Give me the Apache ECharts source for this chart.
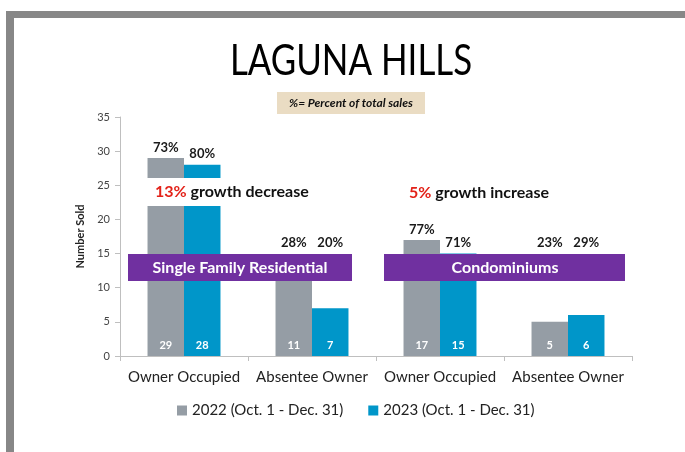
<!DOCTYPE html>
<html>
<head>
<meta charset="utf-8">
<script src="https://cdn.jsdelivr.net/npm/echarts@6/dist/echarts.min.js"></script>
<style>
html, body { margin: 0; padding: 0; background: #fff; }
#chart { width: 685px; height: 452px; }
</style>
</head>
<body>
<div id="chart"></div>
<script>
'use strict'
var categories = ['Owner Occupied', 'Absentee Owner', 'Owner Occupied', 'Absentee Owner'];
var seriesNames = ['2022 (Oct. 1 - Dec. 31)', '2023 (Oct. 1 - Dec. 31)'];
var sold2022 = [29, 11, 17, 5];
var sold2023 = [28, 7, 15, 6];
var pct2022 = ['73%', '28%', '77%', '23%'];
var pct2023 = ['80%', '20%', '71%', '29%'];
var yTicks = [0, 5, 10, 15, 20, 25, 30, 35];

var FONT = 'Lato';
var BAND_TOP = 15; // purple banner top, in axis units

//percent labels sit on the bar, or on the banner when the bar is hidden
function pctMarks(vals, pcts) {
    var arr = [];
    for (var i = 0; i < vals.length; i++) {
        arr.push({
            coord: [i, Math.max(vals[i], BAND_TOP)],
            value: pcts[i]
        });
    }
    return arr;
}

function barSeries(name, data, pcts, color) {
    return {
        name: name,
        type: 'bar',
        data: data,
        barGap: '0%',
        barCategoryGap: '43%',
        itemStyle: { color: color },
        label: {
            show: true,
            position: 'insideBottom',
            distance: 5,
            color: '#fff',
            fontFamily: FONT,
            fontWeight: 'bold',
            fontSize: 11
        },
        markPoint: {
            symbol: 'rect',
            symbolSize: 0,
            label: {
                show: true,
                position: 'top',
                distance: 4,
                formatter: '{c}',
                color: '#1a1a1a',
                fontFamily: FONT,
                fontWeight: 'bold',
                fontSize: 13
            },
            data: pctMarks(data, pcts)
        }
    };
}

var chart = echarts.init(document.getElementById('chart'));
var option = {
    backgroundColor: '#fff',
    animation: false,
    grid: { left: 120, right: 53, top: 117, bottom: 96 },
    legend: {
        data: seriesNames,
        left: 172,
        top: 398,
        itemWidth: 10,
        itemHeight: 10,
        itemGap: 25,
        icon: 'rect',
        textStyle: { fontFamily: FONT, fontSize: 15, color: '#222' }
    },
    xAxis: {
        type: 'category',
        data: categories,
        axisLine: { lineStyle: { color: '#bfbfbf' } },
        axisTick: { show: true, length: 5, lineStyle: { color: '#bfbfbf' } },
        axisLabel: { fontFamily: FONT, fontSize: 15, color: '#222', margin: 14, interval: 0 }
    },
    yAxis: {
        type: 'value',
        min: yTicks[0],
        max: yTicks[yTicks.length - 1],
        interval: 5,
        name: 'Number Sold',
        nameLocation: 'middle',
        nameRotate: 90,
        nameGap: 27,
        nameTextStyle: { fontFamily: FONT, fontSize: 11, fontWeight: 'bold', color: '#222' },
        axisLine: { show: true, lineStyle: { color: '#bfbfbf' } },
        axisTick: { show: true, length: 5, lineStyle: { color: '#bfbfbf' } },
        axisLabel: { fontFamily: FONT, fontSize: 11, color: '#444', margin: 10 },
        splitLine: { show: false }
    },
    series: [
        barSeries(seriesNames[0], sold2022, pct2022, '#959da5'),
        barSeries(seriesNames[1], sold2023, pct2023, '#0096c9')
    ],
    graphic: [
        //slide frame
        { type: 'rect', shape: { x: 6, y: 11, width: 679, height: 7 }, style: { fill: '#878787' } },
        { type: 'rect', shape: { x: 6, y: 11, width: 8, height: 441 }, style: { fill: '#878787' } },
        //title
        { type: 'text', x: 351, y: 61, scaleX: 0.83, style: { text: 'LAGUNA HILLS', fontFamily: FONT, fontSize: 42, fill: '#000', align: 'center', verticalAlign: 'middle' } },
        { type: 'rect', shape: { x: 277, y: 92, width: 148, height: 22 }, style: { fill: '#eadcc3' } },
        { type: 'text', x: 351, y: 103, style: { text: '%= Percent of total sales', fontFamily: FONT, fontSize: 12, fontWeight: 'bold', fontStyle: 'italic', fill: '#111', align: 'center', verticalAlign: 'middle' } },
        //growth notes
        { type: 'rect', z: 10, shape: { x: 140, y: 178, width: 180, height: 28 }, style: { fill: '#fff' } },
        { type: 'text', z: 11, x: 155, y: 192, style: { text: '{r|13%} growth decrease', rich: { r: { fill: '#e32219', fontFamily: FONT, fontSize: 16, fontWeight: 'bold' } }, fontFamily: FONT, fontSize: 16, fontWeight: 'bold', fill: '#111', verticalAlign: 'middle' } },
        { type: 'text', z: 11, x: 409, y: 193, style: { text: '{r|5%} growth increase', rich: { r: { fill: '#e32219', fontFamily: FONT, fontSize: 16, fontWeight: 'bold' } }, fontFamily: FONT, fontSize: 16, fontWeight: 'bold', fill: '#111', verticalAlign: 'middle' } },
        //banners
        { type: 'rect', z: 10, shape: { x: 128, y: 254, width: 224, height: 27 }, style: { fill: '#7030a0' } },
        { type: 'text', z: 11, x: 240, y: 268, style: { text: 'Single Family Residential', fontFamily: FONT, fontSize: 16, fontWeight: 'bold', fill: '#fff', align: 'center', verticalAlign: 'middle' } },
        { type: 'rect', z: 10, shape: { x: 384, y: 254, width: 241, height: 27 }, style: { fill: '#7030a0' } },
        { type: 'text', z: 11, x: 505, y: 268, style: { text: 'Condominiums', fontFamily: FONT, fontSize: 16, fontWeight: 'bold', fill: '#fff', align: 'center', verticalAlign: 'middle' } }
    ]
};
chart.setOption(option);
</script>
</body>
</html>
